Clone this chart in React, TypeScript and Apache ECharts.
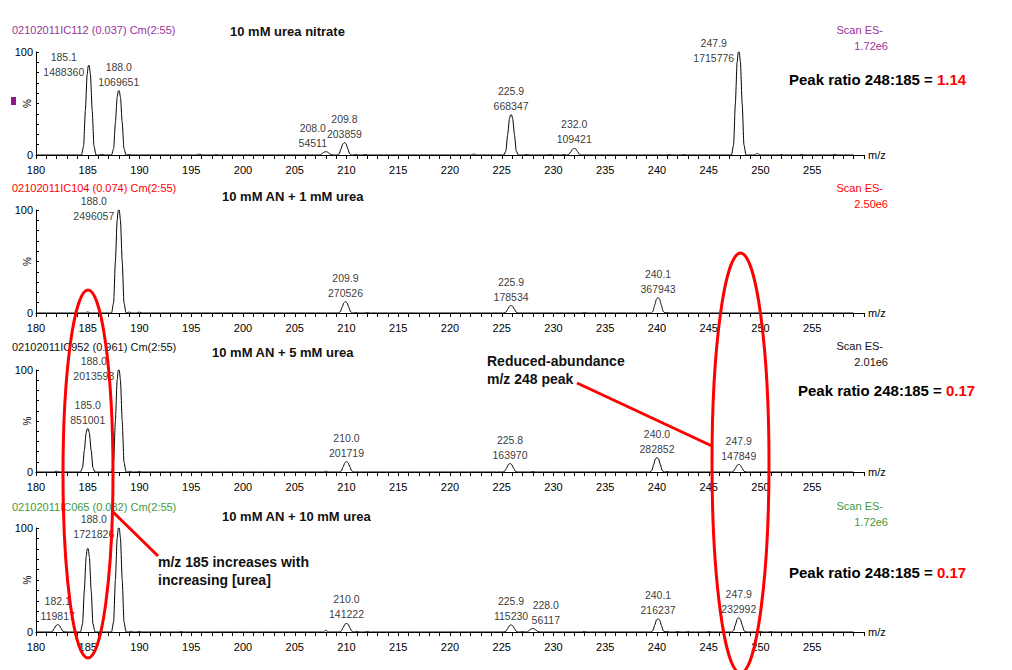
import { useEffect, useRef } from "react";
import * as echarts from "echarts";

// ---- Spectrum data: labelled peaks are [m/z, ion count]; minor peaks are [m/z, % of base peak]
const urea10Labelled: [number, number][] = [
  [185.1, 1488360], [188.0, 1069651], [208.0, 54511], [209.8, 203859],
  [225.9, 668347], [232.0, 109421], [247.9, 1715776],
];
const urea10Minor: [number, number][] = [
  [186.4, 0.6], [189.0, 0.5], [195.8, 0.8], [197.4, 0.4], [210.9, 0.6], [211.8, 0.5],
  [222.3, 1.0], [227.4, 0.5], [229.7, 0.5], [231.0, 0.5], [241.2, 0.5], [242.6, 0.5],
  [249.7, 1.5], [252.0, 0.5], [254.0, 0.6], [257.2, 0.6],
];

const an1Labelled: [number, number][] = [
  [188.0, 2496057], [209.9, 270526], [225.9, 178534], [240.1, 367943],
];
const an1Minor: [number, number][] = [
  [185.0, 1.0], [189.0, 0.8], [190.0, 0.8], [210.9, 0.5], [212.0, 0.5], [233.0, 0.4], [241.0, 0.5],
];

const an5Labelled: [number, number][] = [
  [185.0, 851001], [188.0, 2013593], [210.0, 201719], [225.8, 163970],
  [240.0, 282852], [247.9, 147849],
];
const an5Minor: [number, number][] = [
  [182.0, 0.8], [189.1, 0.6], [190.0, 0.6], [208.0, 0.8], [228.0, 0.5], [241.0, 0.5],
];

const an10Labelled: [number, number][] = [
  [182.1, 119817], [188.0, 1721826], [210.0, 141222], [225.9, 115230],
  [228.0, 56117], [240.1, 216237], [247.9, 232992],
];
const an10Minor: [number, number][] = [
  [185.0, 80], [189.2, 0.6], [190.0, 0.6], [194.0, 0.5], [208.0, 1.5], [211.0, 0.6],
  [212.0, 0.5], [227.0, 0.4], [233.0, 0.5], [241.0, 0.6], [242.0, 0.5], [243.0, 0.5],
  [245.0, 0.6], [250.0, 0.6], [251.0, 0.5],
];

// Base-peak counts (100 %) and the scan headers
const baseCounts = [1715776, 2496057, 2013593, 1721826];
const scanIntensity = ["1.72e6", "2.50e6", "2.01e6", "1.72e6"];
const scanIds = [
  "02102011IC112 (0.037) Cm(2:55)",
  "02102011IC104 (0.074) Cm(2:55)",
  "02102011IC952 (0.961) Cm(2:55)",
  "02102011IC065 (0.032) Cm(2:55)",
];
const sampleTitles = [
  "10 mM urea nitrate",
  "10 mM AN + 1 mM urea",
  "10 mM AN + 5 mM urea",
  "10 mM AN + 10 mM urea",
];
const peakRatios = ["1.14", null, "0.17", "0.17"];

// Axis range / ticks
const MZ_MIN = 180;
const MZ_MAX = 260;
const MZ_STEP = 5;

const labelledSets = [urea10Labelled, an1Labelled, an5Labelled, an10Labelled];
const minorSets = [urea10Minor, an1Minor, an5Minor, an10Minor];

// ---- Layout
const PANEL_TOPS = [52, 210, 370, 528];
const PANEL_H = [103, 103, 102, 104];
const GRID_LEFT = 36;
const GRID_W = 828;
const HEADER_COLORS = ["#993399", "#ff0000", "#111111", "#3f9a3a"];
const FONT = "'Liberation Sans', Arial, sans-serif";

// relative peak profile (m/z offset, fraction of peak height)
const PEAK_SHAPE: [number, number][] = [
  [-0.7, 0], [-0.5, 0.1], [-0.33, 0.5], [-0.16, 0.9], [-0.05, 1],
  [0.05, 1], [0.16, 0.9], [0.33, 0.5], [0.5, 0.1], [0.7, 0],
];

function buildProfile(peaks: [number, number][]): [number, number][] {
  const sorted = [...peaks].sort((a, b) => a[0] - b[0]);
  const pts: [number, number][] = [[MZ_MIN, 0]];
  for (const [mz, h] of sorted) {
    const w = h < 2 ? 0.45 : 1;
    for (const [dx, f] of PEAK_SHAPE) pts.push([mz + dx * w, h * f]);
  }
  pts.push([259, 0]);
  return pts;
}

export default function App() {
  const ref = useRef<HTMLDivElement>(null);

  useEffect(() => {
    document.body.style.margin = "0";
    if (!ref.current) return;
    const chart = echarts.init(ref.current, null, { renderer: "svg" });

    const grids: any[] = [];
    const xAxes: any[] = [];
    const yAxes: any[] = [];
    const series: any[] = [];

    for (let i = 0; i < 4; i++) {
      grids.push({
        left: GRID_LEFT,
        top: PANEL_TOPS[i],
        width: GRID_W,
        height: PANEL_H[i],
        containLabel: false,
        outerBoundsMode: "none",
      });
      xAxes.push({
        gridIndex: i,
        type: "value",
        min: MZ_MIN,
        max: MZ_MAX,
        interval: MZ_STEP,
        name: "m/z",
        nameLocation: "end",
        nameGap: 4,
        nameTextStyle: { color: "#000", fontSize: 11, fontFamily: FONT },
        axisLine: { show: true, lineStyle: { color: "#000", width: 1 } },
        axisTick: { show: true, length: 4, lineStyle: { color: "#000" } },
        minorTick: { show: true, splitNumber: 5, length: 4, lineStyle: { color: "#000" } },
        splitLine: { show: false },
        minorSplitLine: { show: false },
        axisLabel: {
          color: "#000",
          fontSize: 11,
          fontFamily: FONT,
          margin: 9,
          formatter: (v: number) => (v >= MZ_MAX ? "" : String(v)),
        },
      });
      yAxes.push({
        gridIndex: i,
        type: "value",
        min: 0,
        max: 100,
        interval: 100,
        name: "%",
        nameLocation: "middle",
        nameGap: 4,
        nameRotate: 90,
        nameMoveOverlap: false,
        nameTextStyle: { color: "#000", fontSize: 10, fontFamily: FONT },
        axisLine: { show: true, lineStyle: { color: "#000", width: 1 } },
        axisTick: { show: true, inside: true, length: 3, lineStyle: { color: "#000" } },
        minorTick: { show: true, splitNumber: 10, length: 3, lineStyle: { color: "#000" } },
        splitLine: { show: false },
        minorSplitLine: { show: false },
        axisLabel: { color: "#000", fontSize: 11, fontFamily: FONT, margin: 3 },
      });

      const base = baseCounts[i];
      const labelled = labelledSets[i].map(([mz, c]) => [mz, (c / base) * 100] as [number, number]);
      const profile = buildProfile([...labelled, ...minorSets[i]]);

      series.push({
        type: "line",
        xAxisIndex: i,
        yAxisIndex: i,
        data: profile,
        showSymbol: false,
        smooth: 0.2,
        smoothMonotone: "x",
        lineStyle: { color: "#000", width: 1 },
        silent: true,
        z: 3,
      });

      const labelData = labelledSets[i].map(([mz, c], k) => {
        const pct = (c / base) * 100;
        let dx = 0;
        labelledSets[i].forEach(([mz2, c2], j) => {
          if (j !== k && Math.abs(mz2 - mz) < 2.5 && c2 > c) dx = mz2 > mz ? -13 : 13;
        });
        const beside = pct > 80;
        return {
          value: [mz, pct],
          label: {
            show: true,
            position: "top",
            distance: 1,
            offset: beside ? [-25, 15] : [dx, 0],
            align: "center",
            formatter: `${mz.toFixed(1)}\n${c}`,
          },
        };
      });

      series.push({
        type: "scatter",
        xAxisIndex: i,
        yAxisIndex: i,
        symbolSize: 1,
        itemStyle: { color: "rgba(0,0,0,0)" },
        silent: true,
        z: 4,
        label: {
          color: "#000",
          fontSize: 10.5,
          lineHeight: 15,
          fontFamily: FONT,
        },
        data: labelData,
      });
    }

    // Header texts and annotations
    const headerY = [30, 188, 347, 507];
    const titleX = [230, 222, 212, 222];
    const titleY = [31, 196, 352, 516];
    const scanY = [30, 188, 346, 506];
    const ratioX = [789, 0, 798, 789];
    const ratioY = [79, 0, 390, 572];

    const graphics: any[] = [];
    for (let i = 0; i < 4; i++) {
      graphics.push({
        type: "text",
        x: 12,
        y: headerY[i],
        style: {
          text: scanIds[i],
          font: `11px ${FONT}`,
          fill: HEADER_COLORS[i],
          textAlign: "left",
          textVerticalAlign: "middle",
        },
      });
      graphics.push({
        type: "text",
        x: titleX[i],
        y: titleY[i],
        style: {
          text: sampleTitles[i],
          font: `bold 13px ${FONT}`,
          fill: "#111",
          textAlign: "left",
          textVerticalAlign: "middle",
        },
      });
      graphics.push({
        type: "text",
        x: 883,
        y: scanY[i],
        style: {
          text: "Scan ES-",
          font: `11px ${FONT}`,
          fill: HEADER_COLORS[i],
          textAlign: "right",
          textVerticalAlign: "middle",
        },
      });
      graphics.push({
        type: "text",
        x: 888,
        y: scanY[i] + 16,
        style: {
          text: scanIntensity[i],
          font: `11px ${FONT}`,
          fill: HEADER_COLORS[i],
          textAlign: "right",
          textVerticalAlign: "middle",
        },
      });
      const r = peakRatios[i];
      if (r) {
        graphics.push({
          type: "text",
          x: ratioX[i],
          y: ratioY[i],
          style: {
            text: `{k|Peak ratio 248:185 = }{v|${r}}`,
            textAlign: "left",
            textVerticalAlign: "middle",
            rich: {
              k: { font: `bold 15px ${FONT}`, fill: "#000" },
              v: { font: `bold 15px ${FONT}`, fill: "#ff0000" },
            },
          },
        });
      }
    }

    // small marker beside the first panel's axis
    graphics.push({
      type: "rect",
      shape: { x: 11, y: 97, width: 5, height: 8 },
      style: { fill: "#8a1a8a" },
    });

    const noteFont = `bold 14px ${FONT}`;
    graphics.push(
      {
        type: "text",
        x: 487,
        y: 361,
        style: { text: "Reduced-abundance", font: noteFont, fill: "#111", textVerticalAlign: "middle" },
      },
      {
        type: "text",
        x: 487,
        y: 379,
        style: { text: "m/z 248 peak", font: noteFont, fill: "#111", textVerticalAlign: "middle" },
      },
      {
        type: "text",
        x: 158,
        y: 562,
        style: { text: "m/z 185 increases with", font: noteFont, fill: "#111", textVerticalAlign: "middle" },
      },
      {
        type: "text",
        x: 158,
        y: 580,
        style: { text: "increasing [urea]", font: noteFont, fill: "#111", textVerticalAlign: "middle" },
      },
      {
        type: "line",
        z: 100,
        shape: { x1: 577, y1: 383, x2: 712, y2: 446 },
        style: { stroke: "#ff0000", lineWidth: 3 },
      },
      {
        type: "line",
        z: 100,
        shape: { x1: 112, y1: 511, x2: 158, y2: 556 },
        style: { stroke: "#ff0000", lineWidth: 3 },
      },
      {
        type: "ellipse",
        z: 100,
        shape: { cx: 88, cy: 474, rx: 25, ry: 184 },
        style: { fill: "none", stroke: "#ff0000", lineWidth: 3 },
      },
      {
        type: "ellipse",
        z: 100,
        shape: { cx: 740.5, cy: 463, rx: 28.5, ry: 210 },
        style: { fill: "none", stroke: "#ff0000", lineWidth: 3 },
      }
    );

    chart.setOption({
      animation: false,
      backgroundColor: "#ffffff",
      grid: grids,
      xAxis: xAxes,
      yAxis: yAxes,
      series,
      graphic: graphics,
    });

    return () => chart.dispose();
  }, []);

  return <div ref={ref} style={{ width: 1012, height: 670 }} />;
}
